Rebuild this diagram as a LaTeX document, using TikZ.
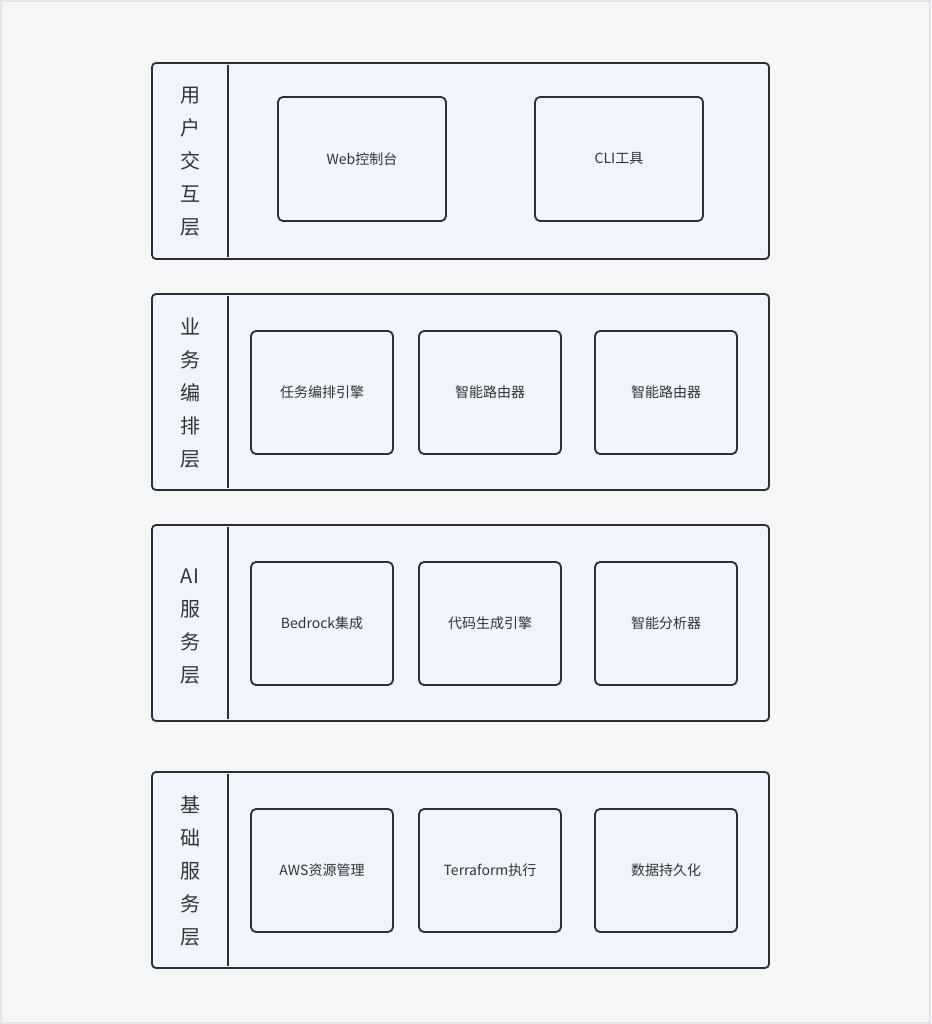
\documentclass[tikz,border=0pt]{standalone}
\usepackage{fontspec}
\setmainfont{Noto Sans CJK SC}
\begin{document}
\begin{tikzpicture}[x=1pt,y=-1pt,
  bg/.style={fill=bgc,draw=bgline,line width=1.5pt},
  layer/.style={draw=linec,fill=boxc,line width=1.8pt,rounded corners=4pt},
  divider/.style={draw=linec,line width=1.8pt},
  comp/.style={draw=linec,fill=boxc,line width=1.8pt,rounded corners=5pt,inner sep=0pt,font=\fontsize{14}{16}\selectfont,text=textc},
  lbl/.style={font=\fontsize{20}{33}\selectfont,text=textc,align=center,inner sep=0pt}]
\definecolor{bgc}{HTML}{F5F6F8}
\definecolor{bgline}{HTML}{E4E5E8}
\definecolor{boxc}{HTML}{F0F4FC}
\definecolor{linec}{HTML}{2E2E2E}
\definecolor{textc}{HTML}{333333}
\useasboundingbox (0,0) rectangle (931,1024);
\path[bg] (1,1) rectangle (930,1023);
% layer frames
\path[layer] (152,63) rectangle (769,259);
\path[layer] (152,294) rectangle (769,490);
\path[layer] (152,525) rectangle (769,721);
\path[layer] (152,772) rectangle (769,968);
\draw[divider] (228,65) -- (228,257);
\draw[divider] (228,296) -- (228,488);
\draw[divider] (228,527) -- (228,719);
\draw[divider] (228,774) -- (228,966);
% labels
\node[lbl] (l1) at (190,162) {用\\户\\交\\互\\层};
\node[lbl] (l2) at (190,393) {业\\务\\编\\排\\层};
\node[lbl] (l3) at (190,627) {AI\\服\\务\\层};
\node[lbl] (l4) at (190,871) {基\\础\\服\\务\\层};
% layer 1
\node[comp,minimum width=168pt,minimum height=124pt] (web) at (362,159) {Web控制台};
\node[comp,minimum width=168pt,minimum height=124pt] (cli) at (619,159) {CLI工具};
% layer 2
\node[comp,minimum width=142pt,minimum height=123pt] (task) at (322,392.5) {任务编排引擎};
\node[comp,minimum width=142pt,minimum height=123pt] (router1) at (490,392.5) {智能路由器};
\node[comp,minimum width=142pt,minimum height=123pt] (router2) at (666,392.5) {智能路由器};
% layer 3
\node[comp,minimum width=142pt,minimum height=123pt] (bedrock) at (322,623.5) {Bedrock集成};
\node[comp,minimum width=142pt,minimum height=123pt] (codegen) at (490,623.5) {代码生成引擎};
\node[comp,minimum width=142pt,minimum height=123pt] (analyzer) at (666,623.5) {智能分析器};
% layer 4
\node[comp,minimum width=142pt,minimum height=123pt] (aws) at (322,870.5) {AWS资源管理};
\node[comp,minimum width=142pt,minimum height=123pt] (tf) at (490,870.5) {Terraform执行};
\node[comp,minimum width=142pt,minimum height=123pt] (data) at (666,870.5) {数据持久化};
\end{tikzpicture}
\end{document}
